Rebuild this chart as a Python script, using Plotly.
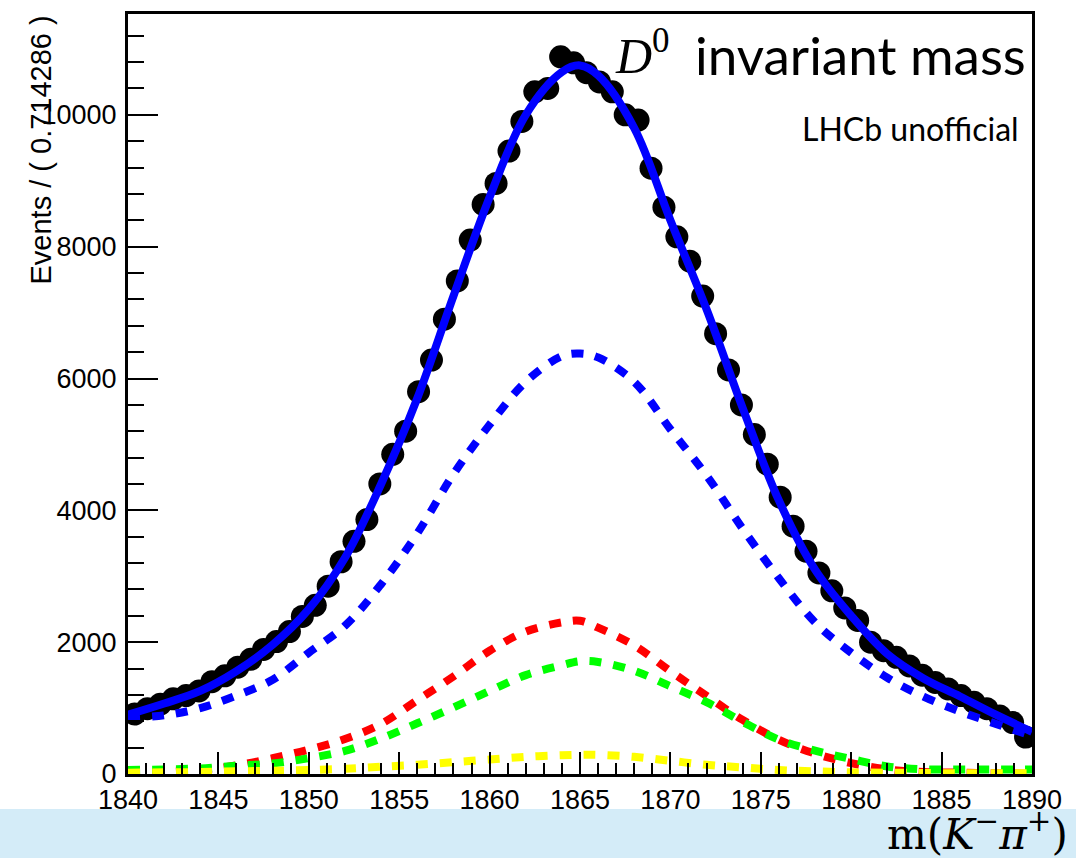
import numpy as np
import plotly.graph_objects as go

# ---------------- data ----------------
bin_lo, bin_hi, n_bins = 1840.0, 1890.0, 70
events = [910, 990, 1060, 1140, 1190, 1260, 1400, 1490, 1620, 1740,
          1890, 2010, 2160, 2390, 2560, 2850, 3220, 3530, 3860, 4400,
          4850, 5200, 5800, 6280, 6900, 7480, 8100, 8640, 8960, 9450,
          9900, 10350, 10400, 10880, 10790, 10640, 10500, 10350, 10000, 9920,
          9190, 8600, 8150, 7780, 7250, 6680, 6130, 5600, 5150, 4700,
          4200, 3760, 3380, 3050, 2780, 2520, 2330, 2000, 1870, 1770,
          1640, 1500, 1390, 1290, 1190, 1090, 990, 880, 780, 560]

curve_m = [1840, 1842, 1844, 1846, 1848, 1850, 1852, 1854, 1856, 1858, 1860,
           1862, 1864, 1865, 1866, 1868, 1870, 1872, 1874, 1876, 1878, 1880,
           1882, 1884, 1886, 1888, 1890]
total_fit = [900, 1070, 1260, 1560, 1960, 2500, 3280, 4400, 5700, 7250, 8750,
             10000, 10650, 10750, 10600, 9800, 8400, 7050, 5550, 4150, 3100, 2400,
             1820, 1450, 1180, 900, 640]
comp_blue = [850, 890, 1000, 1190, 1430, 1840, 2250, 2880, 3650, 4550, 5300,
             5950, 6340, 6380, 6320, 5950, 5230, 4530, 3720, 2970, 2300, 1840,
             1460, 1175, 950, 760, 580]
comp_red = [10, 30, 60, 130, 240, 370, 530, 760, 1120, 1480, 1870,
            2160, 2300, 2325, 2220, 1950, 1560, 1185, 820, 520, 310, 165,
            70, 30, 20, 10, 5]
comp_green = [60, 70, 85, 125, 160, 240, 350, 540, 770, 1010, 1260,
              1500, 1650, 1710, 1700, 1565, 1330, 1090, 790, 520, 355, 228,
              115, 70, 70, 70, 70]
comp_yellow = [20, 25, 30, 40, 50, 60, 80, 110, 140, 180, 220,
               260, 285, 290, 290, 260, 200, 140, 100, 60, 40, 25,
               20, 15, 10, 10, 10]

x_ticks = [1840, 1845, 1850, 1855, 1860, 1865, 1870, 1875, 1880, 1885, 1890]
y_ticks = [0, 2000, 4000, 6000, 8000, 10000]

bin_w = (bin_hi - bin_lo) / n_bins
centers = bin_lo + (np.arange(n_bins) + 0.5) * bin_w

fig = go.Figure()

fig.add_trace(go.Scatter(x=centers, y=events, mode="markers",
                         marker=dict(color="black", size=23, symbol="circle"),
                         showlegend=False))
fig.add_trace(go.Scatter(x=curve_m, y=total_fit, mode="lines",
                         line=dict(color="#0000ff", width=8, shape="spline"),
                         showlegend=False))
for comp, col in [(comp_blue, "#0000ff"), (comp_red, "#ff0000"),
                  (comp_green, "#00ff00"), (comp_yellow, "#ffff00")]:
    fig.add_trace(go.Scatter(x=curve_m, y=comp, mode="lines",
                             line=dict(color=col, width=8, shape="spline",
                                       dash="12px,12px"),
                             showlegend=False))

# small caption half-hidden by the band
fig.add_trace(go.Scatter(x=[1864.8], y=[-455], mode="text",
                         text=['A RooPlot of "D0_M"'],
                         textfont=dict(family="Liberation Sans", size=12, color="black"),
                         cliponaxis=False, showlegend=False, hoverinfo="skip"))

tickfont = dict(family="Liberation Sans", size=27, color="black")
fig.update_xaxes(range=[bin_lo, bin_hi], tickvals=x_ticks, ticktext=[str(t) for t in x_ticks],
                 ticks="inside", ticklen=22, tickwidth=2, tickcolor="black",
                 minor=dict(dtick=1, ticks="inside", ticklen=11, tickwidth=2, tickcolor="black"),
                 showline=True, linecolor="black", linewidth=3, mirror=True,
                 showgrid=False, zeroline=False, tickfont=tickfont)
fig.update_yaxes(range=[0, 11530], tickvals=y_ticks, ticktext=[str(t) for t in y_ticks],
                 ticks="inside", ticklen=30, tickwidth=2, tickcolor="black",
                 minor=dict(dtick=400, ticks="inside", ticklen=16, tickwidth=2, tickcolor="black"),
                 showline=True, linecolor="black", linewidth=3, mirror=True,
                 showgrid=False, zeroline=False, tickfont=tickfont, ticklabelstandoff=3)

W, H = 1076, 858
L, R, T, B = 128, 44, 14, 84
pw, ph = W - L - R, H - T - B

def px(xp):
    return (xp - L) / pw

def py(yp):
    return (H - B - yp) / ph

fig.add_shape(type="rect", xref="paper", yref="paper", x0=px(0), x1=px(W), y0=py(858), y1=py(809),
              fillcolor="#d4ecf8", line=dict(width=0), layer="above")

anns = [
    dict(text="Events / ( 0.714286 )", x=px(40), y=py(14), xanchor="center", yanchor="top",
         textangle=-90, font=dict(family="Liberation Sans", size=29, color="black")),
    dict(text="<i>D</i><sup>0</sup>", x=px(672), y=py(52), xanchor="right", yanchor="middle",
         font=dict(family="Liberation Serif", size=50, color="black")),
    dict(text="invariant mass", x=px(1028), y=py(54), xanchor="right", yanchor="middle",
         font=dict(family="Lato", size=53, color="black")),
    dict(text="LHCb unofficial", x=px(1021), y=py(128), xanchor="right", yanchor="middle",
         font=dict(family="Lato", size=32, color="black")),
    dict(text="m(<i>K</i><sup>−</sup><i>π</i><sup>+</sup>)", x=px(1070), y=py(832),
         xanchor="right", yanchor="middle",
         font=dict(family="DejaVu Serif", size=42, color="black")),
]
for a in anns:
    fig.add_annotation(xref="paper", yref="paper", showarrow=False, **a)

fig.update_layout(width=W, height=H, margin=dict(l=L, r=R, t=T, b=B),
                  paper_bgcolor="white", plot_bgcolor="white", showlegend=False)

fig.write_html("out.html")
